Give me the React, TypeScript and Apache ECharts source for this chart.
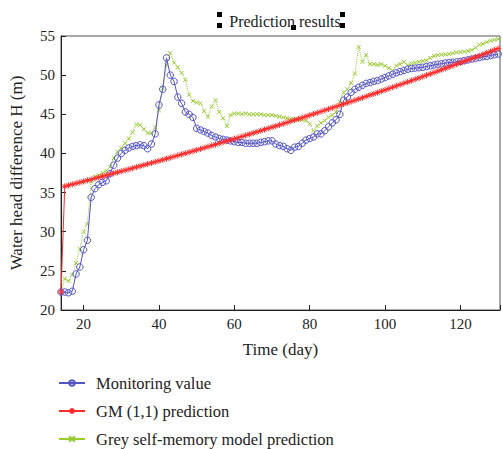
import React, { useEffect, useRef } from "react";
import * as echarts from "echarts";

const startDay = 14;
const yTicks = [20, 25, 30, 35, 40, 45, 50, 55];
const xTickLabels = [20, 40, 60, 80, 100, 120];

const monitoring = [
  22.3, 22.3, 22.2, 22.4, 24.6, 25.5, 27.7, 28.9, 34.4, 35.5,
  36.0, 36.3, 36.5, 37.4, 38.5, 39.4, 40.0, 40.4, 40.7, 40.9,
  41.0, 41.1, 41.0, 40.6, 41.2, 42.5, 46.2, 48.2, 52.2, 50.0,
  49.2, 47.2, 46.4, 45.3, 45.0, 44.6, 43.2, 43.0, 42.8, 42.6,
  42.3, 42.1, 41.9, 41.8, 41.7, 41.6, 41.5, 41.4, 41.4, 41.3,
  41.3, 41.3, 41.3, 41.4, 41.5, 41.6, 41.6, 41.2, 41.0, 40.9,
  40.6, 40.4, 40.8, 40.9, 41.3, 41.7, 41.9, 42.1, 42.5, 42.5,
  42.9, 43.4, 43.9, 44.3, 45.0, 46.8, 47.2, 47.8, 48.2, 48.45,
  48.7, 48.95, 49.05, 49.2, 49.3, 49.5, 49.7, 49.9, 50.1, 50.3,
  50.45, 50.6, 50.75, 50.85, 50.9, 50.95, 51.0, 51.1, 51.2, 51.3,
  51.4, 51.45, 51.55, 51.6, 51.65, 51.7, 51.75, 51.85, 51.95, 52.05,
  52.15, 52.25, 52.35, 52.4, 52.5, 52.6, 52.7,
];

const gmPrediction = [
  22.3, 35.8, 35.93, 36.05, 36.18, 36.3, 36.43, 36.56, 36.68, 36.81,
  36.94, 37.07, 37.2, 37.33, 37.46, 37.59, 37.72, 37.85, 37.98, 38.11,
  38.25, 38.38, 38.51, 38.65, 38.78, 38.92, 39.05, 39.19, 39.33, 39.46,
  39.6, 39.74, 39.88, 40.01, 40.15, 40.29, 40.43, 40.57, 40.72, 40.86,
  41.0, 41.14, 41.29, 41.43, 41.58, 41.72, 41.86, 42.01, 42.16, 42.31,
  42.45, 42.6, 42.75, 42.9, 43.05, 43.2, 43.35, 43.5, 43.65, 43.8,
  43.95, 44.11, 44.26, 44.41, 44.57, 44.72, 44.88, 45.04, 45.19, 45.35,
  45.51, 45.67, 45.83, 45.99, 46.15, 46.31, 46.47, 46.63, 46.79, 46.96,
  47.12, 47.28, 47.45, 47.61, 47.78, 47.94, 48.11, 48.28, 48.45, 48.62,
  48.79, 48.95, 49.13, 49.3, 49.47, 49.64, 49.81, 49.99, 50.16, 50.34,
  50.51, 50.69, 50.86, 51.04, 51.22, 51.4, 51.58, 51.76, 51.94, 52.12,
  52.3, 52.48, 52.66, 52.85, 53.03, 53.22, 53.4,
];

const selfMemory = [
  22.3, 24.0, 23.7, 24.5, 26.0, 27.8, 30.0, 31.0, 36.4, 37.0,
  37.2, 37.5, 37.8, 38.3, 39.4, 40.2, 40.7, 41.3, 41.9, 42.7,
  43.7, 43.6, 43.1, 42.6, 42.6, 43.3, 45.5, 48.3, 51.3, 52.8,
  51.6, 51.0, 50.3, 49.4, 47.5, 46.7, 46.5, 46.4, 45.4, 44.7,
  46.0, 46.8, 45.3, 44.5, 43.5, 44.9, 45.1, 45.1, 45.0, 45.1,
  45.0, 45.0, 45.0, 45.0, 44.9, 44.9, 44.9, 44.8, 44.7, 44.6,
  44.5, 44.4, 44.4, 44.3, 44.3, 44.2, 43.8, 42.9, 43.5, 43.9,
  44.2, 44.6, 44.9, 45.3, 46.6, 47.8, 48.2, 49.0, 50.2, 53.6,
  51.7, 52.6, 51.4, 51.4, 51.3, 51.4, 51.2, 50.9, 50.6, 51.2,
  51.4, 51.7, 51.3, 51.5, 51.6, 51.7, 51.8, 51.9, 52.2, 52.45,
  52.55, 52.6, 52.65, 52.7, 52.8, 52.9, 52.95, 53.0, 53.1, 53.2,
  53.5, 53.9, 54.0, 54.2, 54.4, 54.5, 54.6,
];

const seriesNames = [
  "Monitoring value",
  "GM (1,1) prediction",
  "Grey self-memory model prediction",
];

const toPairs = (vals: number[]) => vals.map((v, i) => [startDay + i, v]);

const FONT = "Liberation Serif";
const BLUE = "#5353c8";
const RED = "#ff2a2a";
const GREEN = "#98cc30";

export default function App() {
  const ref = useRef<HTMLDivElement>(null);
  useEffect(() => {
    if (!ref.current) return;
    const chart = echarts.init(ref.current, undefined, { renderer: "svg" });
    const cross = "path://M0 0L10 10M10 0L0 10";
    const star = "path://M5 0L5 10M0 5L10 5M1.5 1.5L8.5 8.5M8.5 1.5L1.5 8.5";
    chart.setOption({
      animation: false,
      backgroundColor: "#ffffff",
      textStyle: { fontFamily: FONT },
      title: {
        text: "Prediction results",
        left: 280,
        top: 8,
        textAlign: "center",
        textStyle: { fontFamily: FONT, fontSize: 16, fontWeight: "normal", color: "#222" },
      },
      graphic: [
        { type: "rect", shape: { x: 217, y: 12, width: 5, height: 5 }, style: { fill: "#000" } },
        { type: "rect", shape: { x: 217, y: 23, width: 5, height: 5 }, style: { fill: "#000" } },
        { type: "rect", shape: { x: 291, y: 25, width: 5, height: 5 }, style: { fill: "#000" } },
        { type: "rect", shape: { x: 340, y: 12, width: 5, height: 5 }, style: { fill: "#000" } },
        { type: "rect", shape: { x: 340, y: 23, width: 5, height: 5 }, style: { fill: "#000" } },
      ],
      legend: {
        orient: "vertical",
        left: 58,
        top: 374,
        padding: 0,
        itemWidth: 26,
        itemHeight: 7,
        itemGap: 10,
        textStyle: {
          fontFamily: FONT,
          fontSize: 16.5,
          lineHeight: 18,
          color: "#222",
          padding: [0, 0, 0, 6],
        },
        data: [
          { name: seriesNames[0] },
          { name: seriesNames[1] },
          { name: seriesNames[2], lineStyle: { type: "solid", width: 2 } },
        ],
      },
      grid: {
        left: 61,
        top: 36,
        right: -3,
        bottom: 139,
        show: true,
        borderColor: "#555",
        borderWidth: 1,
      },
      xAxis: {
        type: "value",
        min: 14,
        max: 130.5,
        name: "Time (day)",
        nameLocation: "middle",
        nameGap: 31,
        nameTextStyle: { fontFamily: FONT, fontSize: 17, color: "#222" },
        axisLine: { show: true, lineStyle: { color: "#222", width: 1 } },
        axisTick: { show: true, inside: true, length: 5, lineStyle: { color: "#222" } },
        axisLabel: {
          fontFamily: FONT,
          fontSize: 15,
          color: "#222",
          margin: 6,
          formatter: (v: number) => (xTickLabels.includes(v) ? String(v) : ""),
        },
        splitLine: { show: false },
      },
      yAxis: {
        type: "value",
        min: yTicks[0],
        max: yTicks[yTicks.length - 1],
        interval: 5,
        name: "Water head difference H (m)",
        nameLocation: "middle",
        nameGap: 36,
        nameTextStyle: { fontFamily: FONT, fontSize: 17, color: "#222" },
        axisLine: { show: true, lineStyle: { color: "#222", width: 1 } },
        axisTick: { show: true, inside: true, length: 5, lineStyle: { color: "#222" } },
        axisLabel: { fontFamily: FONT, fontSize: 15, color: "#222", margin: 6 },
        splitLine: { show: false },
      },
      series: [
        {
          name: seriesNames[0],
          type: "line",
          data: toPairs(monitoring),
          symbol: "circle",
          symbolSize: 6.5,
          showAllSymbol: true,
          color: BLUE,
          lineStyle: { color: BLUE, width: 1 },
          itemStyle: { color: "rgba(255,255,255,0)", borderColor: BLUE, borderWidth: 1 },
          z: 3,
        },
        {
          name: seriesNames[1],
          type: "line",
          data: toPairs(gmPrediction),
          symbol: star,
          symbolSize: 6,
          showAllSymbol: true,
          color: RED,
          lineStyle: { color: RED, width: 1 },
          itemStyle: { color: "rgba(0,0,0,0)", borderColor: RED, borderWidth: 1 },
          z: 4,
        },
        {
          name: seriesNames[2],
          type: "line",
          data: toPairs(selfMemory),
          symbol: cross,
          symbolSize: 4,
          showAllSymbol: true,
          color: GREEN,
          lineStyle: { color: GREEN, width: 1, type: "dotted" },
          itemStyle: { color: "rgba(0,0,0,0)", borderColor: GREEN, borderWidth: 1 },
          z: 2,
        },
      ],
    });
    return () => chart.dispose();
  }, []);
  return (
    <div
      ref={ref}
      style={{ position: "fixed", left: 0, top: 0, width: 503, height: 449, background: "#fff" }}
    />
  );
}
